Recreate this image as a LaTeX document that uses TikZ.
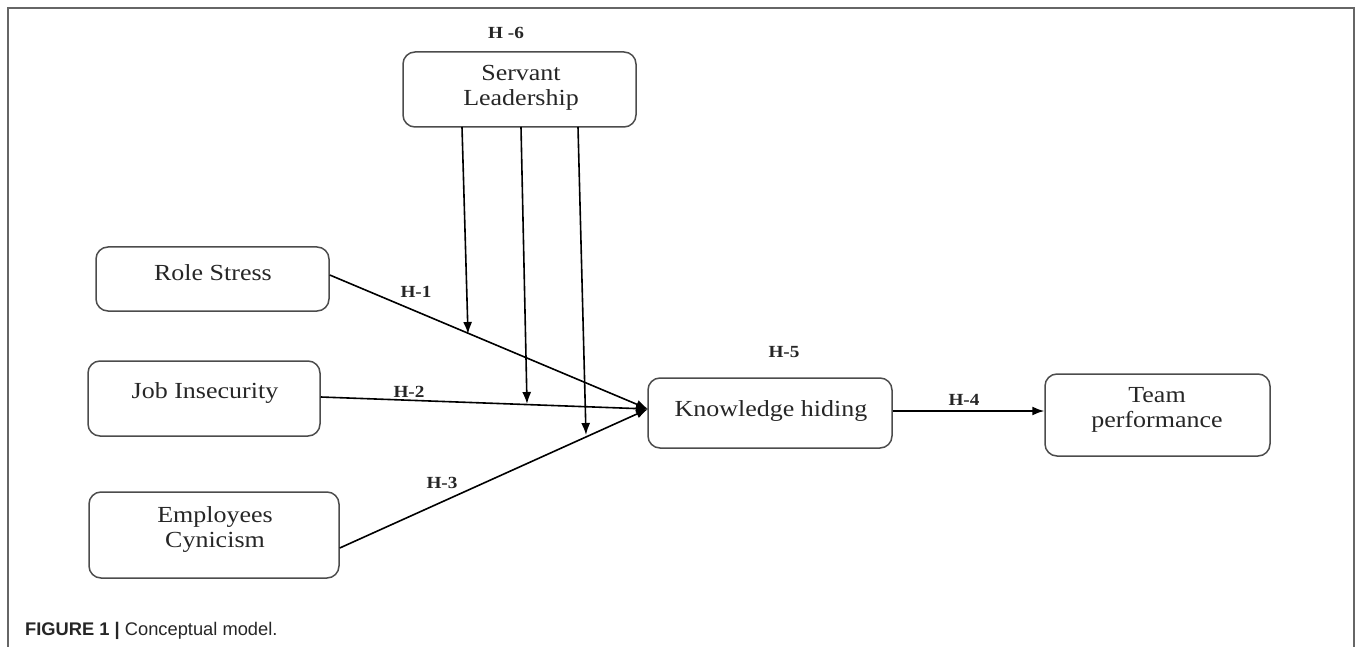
\documentclass[tikz,border=0pt]{standalone}
\usepackage{fontspec}
\setmainfont{Liberation Serif}
\newfontfamily\boxfont[FakeStretch=1.13]{Liberation Serif}
\newfontfamily\capfont{Liberation Sans}
\usetikzlibrary{arrows.meta,calc}
\begin{document}
\begin{tikzpicture}[x=1pt,y=-1pt,
  box/.style={draw=black!70, line width=1.5pt, rounded corners=12pt, inner sep=0pt},
  boxtext/.style={font=\boxfont\fontsize{23}{25}\selectfont, align=center, inner sep=0pt, text=black!85},
  hlabel/.style={font=\boxfont\bfseries\fontsize{17}{19}\selectfont, inner sep=0pt, text=black!85},
  arr/.style={draw=black, line width=1.6pt, -{Latex[length=12pt,width=9pt]}},
  frameline/.style={draw=black!60, line width=2pt}]
\useasboundingbox (0,0) rectangle (1358,647);
% frame
\draw[frameline] (8,647) -- (8,8) -- (1354,8) -- (1354,647);
% boxes
\node[box, minimum width=233pt, minimum height=75pt] (sl) at (519.5,89.5) {};
\node[box, minimum width=233pt, minimum height=64pt] (rs) at (212.5,279) {};
\node[box, minimum width=232pt, minimum height=75pt] (ji) at (204,398.5) {};
\node[box, minimum width=250pt, minimum height=86pt] (ec) at (214,535) {};
\node[box, minimum width=244pt, minimum height=70pt] (kh) at (770,413) {};
\node[box, minimum width=225pt, minimum height=82pt] (tp) at (1157.5,415) {};
% texts
\node[boxtext] (slt) at (521,88) {Servant\\Leadership};
\node[boxtext] (rst) at (213,273) {Role Stress};
\node[boxtext] (jit) at (205,393) {Job Insecurity};
\node[boxtext] (ect) at (215,530) {Employees\\Cynicism};
\node[boxtext] (kht) at (771,411) {Knowledge hiding};
\node[boxtext] (tpt) at (1157,410) {Team\\performance};
% hypothesis labels
\node[hlabel] (h6) at (506,33) {H -6};
\node[hlabel] (h1) at (416,292) {H-1};
\node[hlabel] (h2) at (409,392) {H-2};
\node[hlabel] (h3) at (442,483) {H-3};
\node[hlabel] (h5) at (784,352) {H-5};
\node[hlabel] (h4) at (964,400) {H-4};
% connector points
\coordinate (kin) at (648,409);
\coordinate (s1) at (462,127);
\coordinate (s2) at (521,127);
\coordinate (s3) at (578,127);
\coordinate (e1) at (468,334);
\coordinate (e2) at (527,404);
\coordinate (e3) at (586,435);
% connectors
\draw[arr] (rs.east |- 0,275) -- (kin);
\draw[arr] (ji.east |- 0,397) -- (kin);
\draw[arr] (ec.east |- 0,548) -- (kin);
\draw[arr] (kh.east |- 0,411) -- (tp.west |- 0,411);
\draw[arr] (s1) -- (e1);
\draw[arr] (s2) -- (e2);
\draw[arr] (s3) -- (e3);
% caption
\node[anchor=base west, inner sep=0pt, font=\capfont\fontsize{18.3}{21}\selectfont, text=black!85] (cap) at (25,635) {\textbf{FIGURE 1 |} Conceptual model.};
\end{tikzpicture}
\end{document}
